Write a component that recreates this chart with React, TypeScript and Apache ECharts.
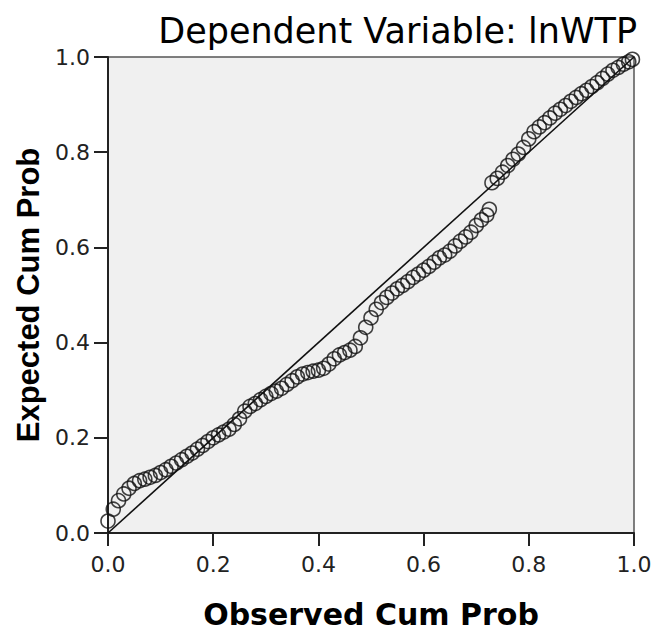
import React, { useEffect, useRef } from "react";
import * as echarts from "echarts";

const titleText = "Dependent Variable: lnWTP";
const xName = "Observed Cum Prob";
const yName = "Expected Cum Prob";

const observed = [
  0.0, 0.01, 0.02, 0.03, 0.04, 0.05, 0.06, 0.07, 0.08, 0.09,
  0.1, 0.11, 0.12, 0.13, 0.14, 0.15, 0.16, 0.17, 0.18, 0.19,
  0.2, 0.21, 0.22, 0.23, 0.24, 0.25, 0.26, 0.27, 0.28, 0.29,
  0.3, 0.31, 0.32, 0.33, 0.34, 0.35, 0.36, 0.37, 0.38, 0.39,
  0.4, 0.41, 0.42, 0.43, 0.44, 0.45, 0.46, 0.47, 0.48, 0.49,
  0.5, 0.51, 0.52, 0.53, 0.54, 0.55, 0.56, 0.57, 0.58, 0.59,
  0.6, 0.61, 0.62, 0.63, 0.64, 0.65, 0.66, 0.67, 0.68, 0.69,
  0.7, 0.71, 0.72, 0.725, 0.73, 0.74, 0.75, 0.76, 0.77, 0.78, 0.79,
  0.8, 0.81, 0.82, 0.83, 0.84, 0.85, 0.86, 0.87, 0.88, 0.89,
  0.9, 0.91, 0.92, 0.93, 0.94, 0.95, 0.96, 0.97, 0.98, 0.99, 0.997,
];

const expected = [
  0.025, 0.05, 0.068, 0.082, 0.094, 0.104, 0.11, 0.113, 0.117, 0.121,
  0.127, 0.133, 0.14, 0.147, 0.154, 0.161, 0.168, 0.176, 0.184, 0.192,
  0.2, 0.206, 0.212, 0.218, 0.228, 0.24, 0.256, 0.266, 0.272, 0.28,
  0.287, 0.293, 0.298, 0.304, 0.312, 0.32, 0.328, 0.334, 0.337, 0.34,
  0.342, 0.346, 0.355, 0.366, 0.374, 0.379, 0.384, 0.392, 0.41, 0.432,
  0.452, 0.47, 0.484, 0.495, 0.504, 0.513, 0.52, 0.528, 0.537, 0.544,
  0.552, 0.56, 0.569, 0.578, 0.584, 0.592, 0.603, 0.613, 0.622, 0.632,
  0.646, 0.658, 0.668, 0.68, 0.736, 0.745, 0.758, 0.772, 0.785, 0.796, 0.81,
  0.828, 0.843, 0.853, 0.862, 0.872, 0.882, 0.89, 0.898, 0.907, 0.915,
  0.923, 0.93, 0.938, 0.946, 0.955, 0.964, 0.972, 0.978, 0.985, 0.99, 0.995,
];

const refLine = [
  [0, 0],
  [1, 1],
];

export default function App() {
  const ref = useRef<HTMLDivElement>(null);
  useEffect(() => {
    if (!ref.current) return;
    const chart = echarts.init(ref.current, null, { renderer: "svg" });
    const points = observed.map((p, i) => [p, expected[i]]);
    const tickLabel = {
      fontFamily: "DejaVu Sans",
      fontSize: 22,
      color: "#222",
      formatter: (v: number) => v.toFixed(1),
    };
    chart.setOption({
      animation: false,
      backgroundColor: "#ffffff",
      title: {
        text: titleText,
        right: 14,
        top: 8,
        textStyle: {
          fontFamily: "DejaVu Sans",
          fontSize: 35,
          fontWeight: "normal",
          color: "#000",
        },
      },
      grid: {
        left: 108,
        right: 22,
        top: 57,
        bottom: 99,
        show: true,
        backgroundColor: "#f0f0f0",
        borderColor: "#555",
        borderWidth: 1.5,
      },
      xAxis: {
        type: "value",
        min: 0,
        max: 1,
        interval: 0.2,
        name: xName,
        nameLocation: "middle",
        nameGap: 66,
        nameTextStyle: {
          fontFamily: "DejaVu Sans",
          fontWeight: "bold",
          fontSize: 30,
          color: "#000",
        },
        axisLine: { show: true, lineStyle: { color: "#222", width: 2 } },
        axisTick: { show: true, inside: false, length: 13, lineStyle: { color: "#222", width: 2 } },
        axisLabel: { ...tickLabel, margin: 20 },
        splitLine: { show: false },
      },
      yAxis: {
        type: "value",
        min: 0,
        max: 1,
        interval: 0.2,
        name: yName,
        nameLocation: "middle",
        nameGap: 64,
        nameTextStyle: {
          fontFamily: "Liberation Sans",
          fontWeight: "bold",
          fontSize: 31,
          color: "#000",
        },
        axisLine: { show: true, lineStyle: { color: "#222", width: 2 } },
        axisTick: { show: true, inside: false, length: 14, lineStyle: { color: "#222", width: 2 } },
        axisLabel: { ...tickLabel, margin: 18 },
        splitLine: { show: false },
      },
      series: [
        {
          type: "line",
          data: refLine,
          symbol: "none",
          lineStyle: { color: "#111", width: 1.6 },
          silent: true,
        },
        {
          type: "scatter",
          data: points,
          symbol: "circle",
          symbolSize: 14,
          itemStyle: {
            color: "rgba(0,0,0,0)",
            borderColor: "#111",
            borderWidth: 1.6,
          },
        },
      ],
    });
    return () => chart.dispose();
  }, []);
  return (
    <div
      ref={ref}
      style={{ position: "fixed", left: 0, top: 0, width: 656, height: 634 }}
    />
  );
}
